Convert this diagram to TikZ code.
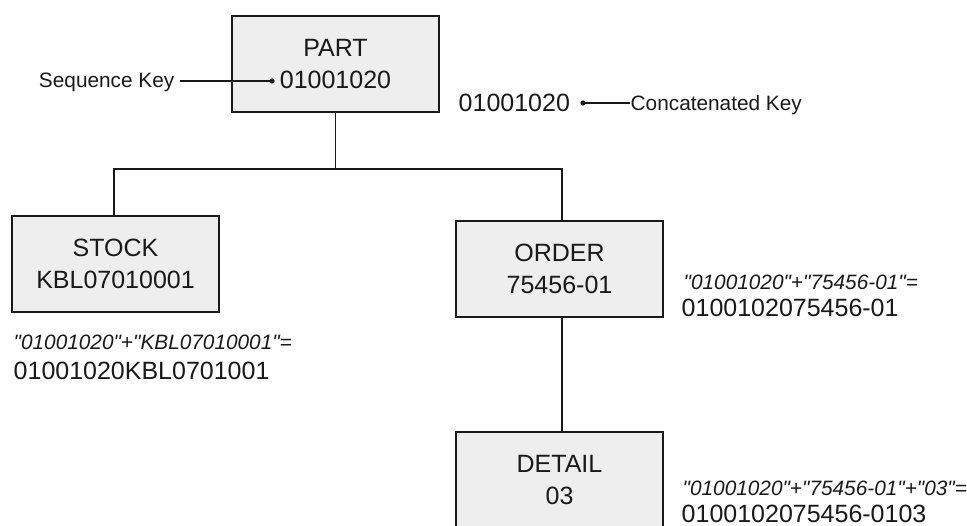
\documentclass[tikz,border=0pt]{standalone}
\usepackage{fontspec}
\setmainfont{Liberation Sans}
% family without the TeX quote mapping, so " stays a straight quote
\newfontfamily\plainsans{Liberation Sans}
\definecolor{boxfill}{RGB}{238,238,238}
\definecolor{ink}{RGB}{25,25,25}
\begin{document}
\begin{tikzpicture}[x=1pt,y=-1pt,
  line width=1.4pt, draw=ink,
  segment/.style={draw=ink, fill=boxfill, line width=1.4pt, minimum width=207pt,
    minimum height=96pt, inner sep=0pt, align=center, text=ink,
    font=\fontsize{25}{32}\selectfont},
  bigtext/.style={inner sep=0pt, text=ink, font=\fontsize{25}{30}\selectfont},
  smalltext/.style={inner sep=0pt, text=ink, font=\fontsize{20.8}{25}\selectfont},
  formula/.style={inner sep=0pt, text=ink, font=\plainsans\fontsize{20.8}{25}\selectfont\itshape},
  link/.style={draw=ink, line width=1.4pt}]
\useasboundingbox (0,0) rectangle (967,526);

% segments of the hierarchy
\node[segment] (part)   at (335.5,64)  {PART\\01001020};
\node[segment] (stock)  at (115.5,264) {STOCK\\KBL07010001};
\node[segment] (order)  at (559.5,269) {ORDER\\75456-01};
\node[segment] (detail) at (559.5,480) {DETAIL\\03};

% parent-child connectors
\coordinate (busL) at (114,169);
\coordinate (busR) at (562,169);
\draw[link] (part.south) -- (part.south |- busL);
\draw[link] (stock.north -| busL) -- (busL) -- (busR) -- (order.north -| busR);
\draw[link] (order.south -| busR) -- (detail.north -| busR);

% sequence key callout
\node[smalltext, anchor=base east] (seqkey) at (175,88) {Sequence Key};
\coordinate (seqdot) at (272,81);
\draw[link, line width=1.1pt, shorten >=5pt] (seqdot) -- (seqdot -| seqkey.east);
\fill[ink] (seqdot) circle (2.6);

% concatenated key callout
\node[bigtext, anchor=base west] (ckey) at (458,112) {01001020};
\coordinate (cdot) at (583,103);
\node[smalltext, anchor=base west] (clabel) at (630,110.5) {Concatenated Key};
\draw[link, line width=1.1pt] (cdot) -- (cdot -| clabel.west);
\fill[ink] (cdot) circle (2.6);

% concatenated keys of the dependent segments
\node[formula, anchor=base west] (sf) at (13,349.5) {"01001020"+"KBL07010001"=};
\node[bigtext, anchor=base west] (sv) at (13,380) {01001020KBL0701001};

\node[formula, anchor=base west] (of) at (683,289.5) {"01001020"+"75456-01"=};
\node[bigtext, anchor=base west] (ov) at (681,317) {0100102075456-01};

\node[formula, anchor=base west] (df) at (682,496) {"01001020"+"75456-01"+"03"=};
\node[bigtext, anchor=base west] (dv) at (681,522) {0100102075456-0103};
\end{tikzpicture}
\end{document}
